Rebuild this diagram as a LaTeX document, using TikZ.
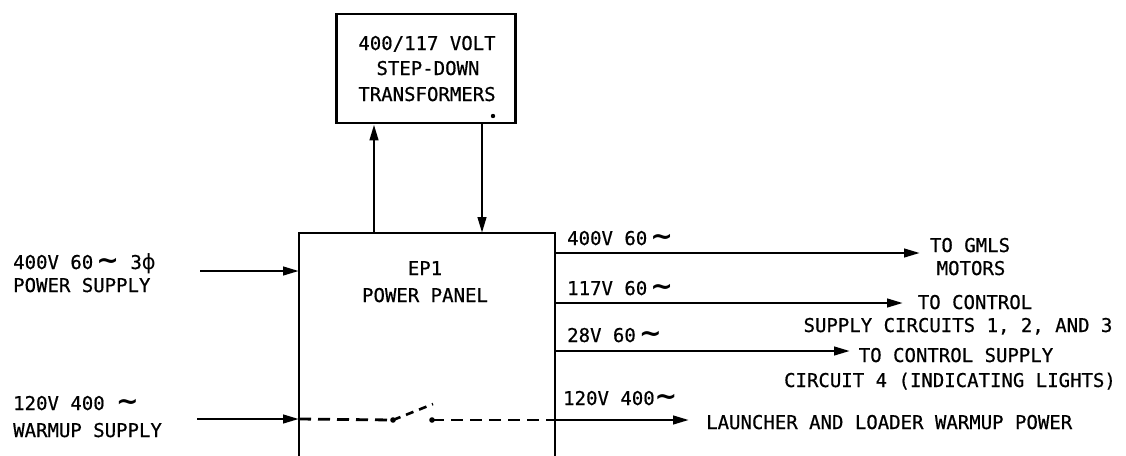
\documentclass[tikz,border=0pt]{standalone}
\usepackage{fontspec}
\setmainfont[FakeBold=0.6]{DejaVu Sans Mono}
\newfontfamily\symf{DejaVu Sans}
\usetikzlibrary{arrows.meta}
\newcommand\ac{{\symf\bfseries\fontsize{27}{27}\selectfont ∼}}
\newcommand\phs{{\symf\fontsize{21}{22}\selectfont ϕ}}
\begin{document}
\begin{tikzpicture}[x=1pt,y=-1pt,
  wire/.style={line width=2.8pt},
  arr/.style={line width=2.7pt,-{Triangle[length=16pt,width=8.5pt]}},
  dashwire/.style={line width=2.8pt,dash pattern=on 12pt off 7pt},
  lbl/.style={inner sep=0pt,font=\fontsize{19}{22}\selectfont},
  lw/.style={lbl,anchor=base west},
  lc/.style={lbl,anchor=base}]
\useasboundingbox (0,0) rectangle (1126,455);
\fill[white] (0,0) rectangle (1126,455);

% transformer box
\node[draw,line width=2.8pt,minimum width=179pt,minimum height=109pt,inner sep=0pt] (tr) at (426,68.5) {};
\node[lc] (t1) at (427,50) {400/117 VOLT};
\node[lc] (t2) at (428,75) {STEP-DOWN};
\node[lc] (t3) at (427,101) {TRANSFORMERS};
\fill (493,116) circle (2.2pt);

% power panel (open at bottom)
\coordinate (eptl) at (299,233);
\coordinate (eptr) at (555,233);
\coordinate (epbl) at (299,456);
\coordinate (epbr) at (555,456);
\draw[wire] (epbl) -- (eptl) -- (eptr) -- (epbr);
\node[lc] (ep1) at (425,275) {EP1};
\node[lc] (ep2) at (425,302) {POWER PANEL};

% links to transformer
\coordinate (up0) at (374,233);
\coordinate (dn0) at (482,233);
\draw[arr] (up0) -- (tr.south -| up0);
\draw[arr] (tr.south -| dn0) -- (dn0);

% inputs
\coordinate (in1) at (200,271);
\coordinate (in2) at (197,419);
\draw[arr] (in1) -- (in1 -| eptl);
\draw[arr] (in2) -- (in2 -| eptl);
\node[lw] (l1a) at (13,269) {400V 60\,\ac\ 3\phs};
\node[lw] (l1b) at (13,292) {POWER SUPPLY};
\node[lw] (l2a) at (13,410) {120V 400 \ac};
\node[lw] (l2b) at (13,437) {WARMUP SUPPLY};

% switch
\coordinate (sw1) at (393,420);
\coordinate (sw2) at (433,404);
\coordinate (sw3) at (432,420);
\draw[dashwire] (in2 -| eptl) -- (sw1);
\fill (sw1) circle (2.8pt);
\draw[line width=2.6pt,dash pattern=on 8pt off 6pt] (sw1) -- (sw2);
\fill (sw3) circle (2.8pt);
\draw[dashwire] (sw3) -- (sw3 -| epbr);

% outputs
\coordinate (o1) at (920,253);
\coordinate (o2) at (903,303);
\coordinate (o3) at (850,351);
\coordinate (o4) at (689,420);
\draw[arr] (o1 -| eptr) -- (o1);
\draw[arr] (o2 -| eptr) -- (o2);
\draw[arr] (o3 -| eptr) -- (o3);
\draw[arr] (o4 -| eptr) -- (o4);

\node[lw] (v1) at (567,245) {400V 60\,\ac};
\node[lw] (v2) at (567,295) {117V 60\,\ac};
\node[lw] (v3) at (567,342) {28V 60\,\ac};
\node[lw] (v4) at (563,405) {120V 400\ac};

\node[lc] (d1a) at (970,252) {TO GMLS};
\node[lc] (d1b) at (971,275) {MOTORS};
\node[lc] (d2a) at (975,309) {TO CONTROL};
\node[lc] (d2b) at (958,332) {SUPPLY CIRCUITS 1, 2, AND 3};
\node[lc] (d3a) at (956,362) {TO CONTROL SUPPLY};
\node[lc] (d3b) at (950,387) {CIRCUIT 4 (INDICATING LIGHTS)};
\node[lw] (d4) at (706,429) {LAUNCHER AND LOADER WARMUP POWER};
\end{tikzpicture}
\end{document}
